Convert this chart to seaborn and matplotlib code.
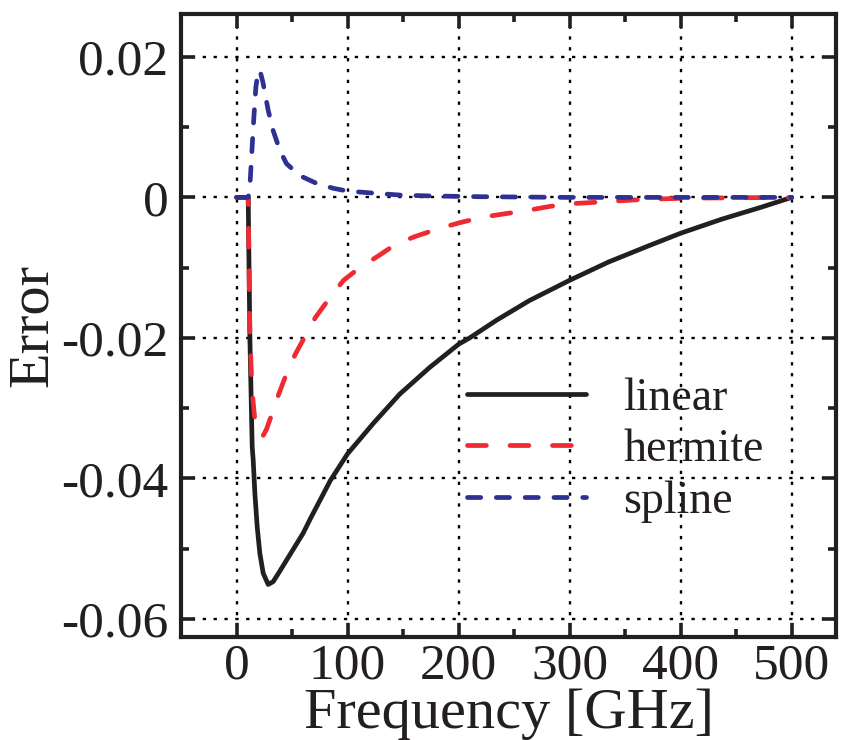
import matplotlib
matplotlib.use("Agg")
import matplotlib.pyplot as plt
import seaborn as sns
from matplotlib.ticker import MultipleLocator, FixedLocator, FixedFormatter

# ---- data ----
linear_x = [0, 10.5, 12, 14.1, 15, 16.5, 18.6, 21, 24, 28.5, 33, 39, 48.7, 60, 66.6, 84.5,
            100, 123, 147, 174, 200, 210, 234, 263.6, 300, 335, 371, 400, 437, 472.5, 500]
linear_y = [0, 0, -0.0199, -0.0355, -0.0374, -0.0421, -0.0469, -0.0507, -0.0535,
            -0.0551, -0.0547, -0.0532, -0.0507, -0.0478, -0.0457, -0.0403, -0.0365,
            -0.0322, -0.0280, -0.0242, -0.0209, -0.0200, -0.0175, -0.0147, -0.0118,
            -0.0092, -0.0069, -0.0051, -0.0031, -0.0014, 0]

hermite_x = [0, 10.5, 12, 14, 16.5, 19, 21.5, 24, 27, 31.5, 38, 45, 53, 62, 71, 83, 96.4,
             111, 128, 144, 162, 183, 201, 222, 243, 264, 281.5, 301, 323, 344, 365, 407,
             500]
hermite_y = [0, 0, -0.0195, -0.0275, -0.0317, -0.0335, -0.0340, -0.0339, -0.0330,
             -0.0310, -0.0280, -0.0251, -0.0223, -0.0197, -0.0171, -0.0145, -0.0118,
             -0.0100, -0.0083, -0.0066, -0.0055, -0.0044, -0.0036, -0.0028, -0.0023,
             -0.0018, -0.0013, -0.0009, -0.0007, -0.0005, -0.0003, -0.0001, 0]

spline_x = [0, 10.5, 12, 13.5, 15.6, 17.4, 19.5, 20.5, 22, 24, 28.5, 33, 39, 45, 57, 72,
            87, 100, 124, 150, 178, 220, 300, 400, 500]
spline_y = [0, 0, 0.0015, 0.0057, 0.0114, 0.0157, 0.0180, 0.0181, 0.0175, 0.0162, 0.0124,
            0.0095, 0.0067, 0.0048, 0.0031, 0.0020, 0.0013, 0.0009, 0.0006, 0.0003,
            0.0002, 0.0001, 0, 0, 0]

labels = ["linear", "hermite", "spline"]
yticks = [-0.06, -0.04, -0.02, 0, 0.02]
ytick_labels = ["-0.06", "-0.04", "-0.02", "0", "0.02"]
xticks = [0, 100, 200, 300, 400, 500]

# ---- styling ----
sns.set_theme(style="ticks")
plt.rcParams["font.family"] = ["Liberation Serif", "DejaVu Serif"]
plt.rcParams["axes.unicode_minus"] = False

fig = plt.figure(figsize=(8.42, 7.4), dpi=100)
ax = fig.add_axes([0.215, 0.139, 0.778, 0.842])

black = "#231F20"
red = "#EE2A33"
blue = "#2E3192"

LW = 3.4
sns.lineplot(x=linear_x, y=linear_y, ax=ax, color=black, lw=LW, sort=False,
             estimator=None, label=labels[0])
sns.lineplot(x=hermite_x, y=hermite_y, ax=ax, color=red, lw=LW, sort=False,
             estimator=None, label=labels[1])
sns.lineplot(x=spline_x, y=spline_y, ax=ax, color=blue, lw=LW, sort=False,
             estimator=None, label=labels[2])
lines = ax.get_lines()
lines[1].set_dashes((4.0, 5.0))
lines[2].set_dashes((2.8, 3.3))
for ln in lines:
    ln.set_solid_capstyle("round")
    ln.set_dash_capstyle("round")
    ln.set_solid_joinstyle("round")

ax.set_xlim(-50, 540)
ax.set_ylim(-0.0626, 0.0261)
ax.xaxis.set_major_locator(FixedLocator(xticks))
ax.xaxis.set_minor_locator(MultipleLocator(50))
ax.yaxis.set_major_locator(FixedLocator(yticks))
ax.yaxis.set_major_formatter(FixedFormatter(ytick_labels))
ax.yaxis.set_minor_locator(MultipleLocator(0.01))

ax.grid(True, which="major", color="black", linestyle=(0, (1.4, 3.2)), lw=1.7)
ax.set_axisbelow(True)

for s in ax.spines.values():
    s.set_linewidth(3.0)
    s.set_color(black)

ax.tick_params(which="both", direction="in", top=True, right=True, color=black)
ax.tick_params(which="major", length=10, width=2.6, labelsize=37, pad=9,
               labelcolor=black)
ax.tick_params(axis="x", which="major", pad=4)
ax.tick_params(which="minor", length=6, width=2.6)

ax.set_xlabel("Frequency [GHz]", fontsize=42, color=black, labelpad=-1)
ax.set_ylabel("Error", fontsize=42, color=black, labelpad=2)

leg = ax.legend(loc="center left", bbox_to_anchor=(0.437, 0.30), frameon=False,
                fontsize=33, handlelength=2.6, handletextpad=0.8, labelspacing=0.2,
                borderpad=0, borderaxespad=0)
for t in leg.get_texts():
    t.set_color(black)

fig.savefig("out.png", dpi=100)
